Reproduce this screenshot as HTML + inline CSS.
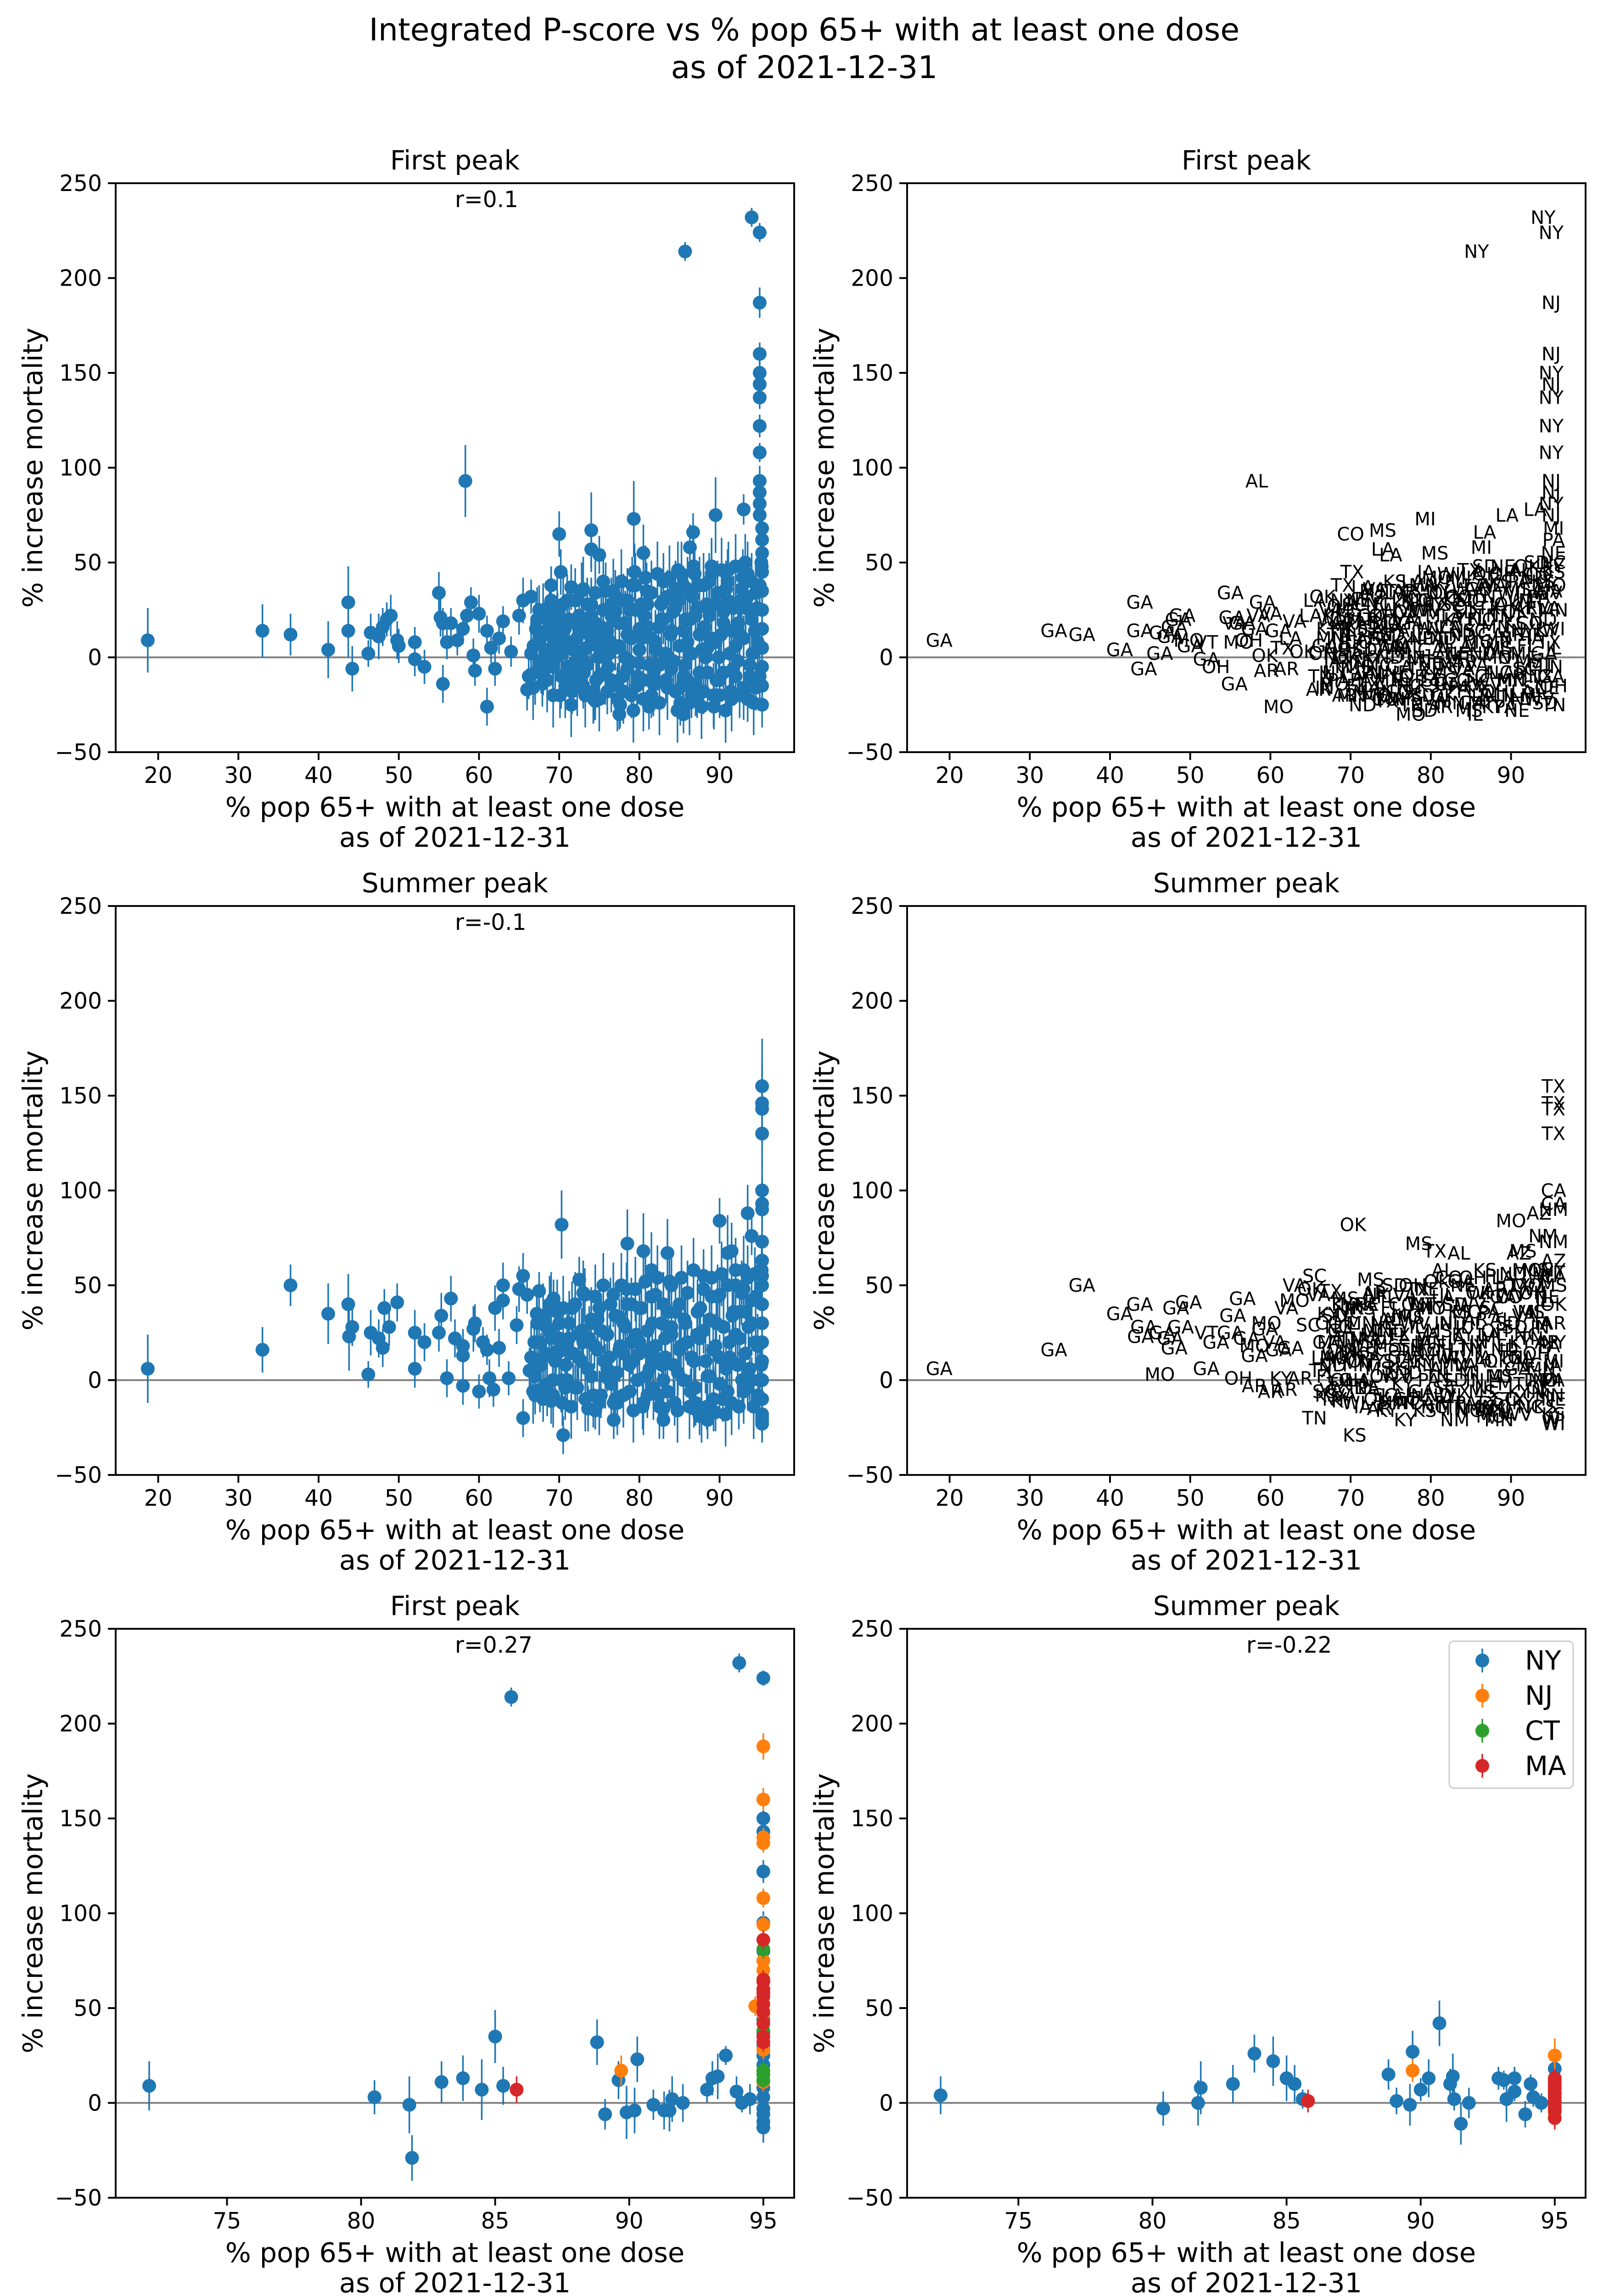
<!DOCTYPE html>
<html><head><meta charset="utf-8">
<style>
html,body{margin:0;padding:0;background:#fff;overflow:hidden;width:3505px;height:5026px;}
svg{display:block;overflow:hidden;font-family:"DejaVu Sans","Liberation Sans",sans-serif;}
</style></head>
<body>
<svg id="fig" width="3505" height="5026" viewBox="0 0 3505 5026" xmlns="http://www.w3.org/2000/svg">
<rect width="3505" height="5026" fill="#fff"/>
<text x="1752" y="88" font-size="68" text-anchor="middle">Integrated P-score vs % pop 65+ with at least one dose</text>
<text x="1752" y="170" font-size="68" text-anchor="middle">as of 2021-12-31</text>
<g id="plots"></g>
</svg>
<script>
// ---------- DATA ----------
const firstOutX = [18.7,33,36.5,41.2,43.7,43.7,44.2,46.2,46.5,47.5,48,48.5,49,49.8,50,52,52,53.2,55,55.2,55.5,55.5,56,56.5,57.3,58,58.3,58.5,59,59.3,59.5,60,61,61,61.5,62,62.5,63,64,65,65.5,66,66.5,69,70,70.2,71.5,74,74,75,74.5,77.5,79.3,80.5,85.5,85.5,86.3,86.7,89.5,93,94,95,85.7,95,95,95,95,95,95,95,95,95,95,95];
const firstOutY = [9,14,12,4,29,14,-6,2,13,11,16,20,22,9,6,8,-1,-5,34,21,18,-14,8,18,9,15,93,22,29,1,-7,23,-26,14,5,-6,10,19,3,22,30,-17,32,38,65,45,37,67,57,54,-23,-30,73,55,-30,38,58,66,75,78,232,224,214,187,160,150,144,137,122,108,93,87,81,75];
const firstOutErr = [17,14,11,15,19,14,12,7,10,12,10,9,11,10,9,8,9,9,11,10,8,10,9,8,8,8,19,7,8,9,8,10,10,8,8,9,8,8,8,10,12,11,9,10,12,12,12,20,12,10,10,8,20,15,10,10,12,10,20,8,5,5,5,8,6,6,6,6,6,5,8,6,6,6];
const firstOutState = "GA GA GA GA GA GA GA GA GA GA GA GA GA MO GA VT GA OH GA GA VA GA MO GA OH GA AL VA GA OK AR VA MO GA TX AR LA VA OK LA LA AR OK TX CO TX LA MS LA LA TX MO MI MS IL LA MI LA LA LA NY NY NY NJ NJ NY NJ NY NY NY NJ NJ NY NJ".split(" ");
const firstBulk = [[66.2,-10,12],[66.8,6,12],[67.1,15,14],[67.5,25,13],[67.9,-14,12],[68.3,0,12],[68.6,12,13],[68.8,27,14],[69.2,-5,12],[69.5,8,12],[69.8,20,14],[70.1,-20,12],[70.4,2,12],[70.7,15,13],[71,30,14],[71.3,-12,12],[71.6,-18,12],[71.9,-3,12],[72.2,10,13],[72.5,22,13],[72.8,35,15],[73.1,-8,12],[73.4,5,12],[73.7,18,13],[74,28,14],[74.3,-22,12],[74.6,-12,12],[74.9,0,12],[75.2,12,13],[75.5,25,14],[75.8,35,15],[76.1,-5,12],[76.4,8,12],[76.7,20,13],[77,32,14],[77.3,-15,12],[77.6,-25,12],[77.9,-10,12],[78.2,0,12],[78.5,12,13],[78.8,25,14],[79.1,38,15],[79.4,45,15],[79.7,-15,12],[80,-3,12],[80.3,10,13],[80.6,22,13],[80.9,35,15],[81.2,-26,12],[81.5,-20,12],[81.8,-8,12],[82.1,4,12],[82.4,16,13],[82.7,28,14],[83,40,15],[83.3,-12,12],[83.6,0,12],[83.9,12,13],[84.2,24,14],[84.5,36,15],[84.8,46,15],[85.1,-24,12],[85.4,-15,12],[85.7,-4,12],[86,8,12],[86.3,20,13],[86.6,32,14],[86.9,44,15],[87.2,-20,12],[87.5,-8,12],[87.8,4,12],[88.1,16,13],[88.4,28,14],[88.7,40,15],[89,48,15],[89.3,-26,12],[89.6,-12,12],[89.9,0,12],[90.2,12,13],[90.5,24,14],[90.8,36,15],[91.1,46,15],[91.4,-18,12],[91.7,-6,12],[92,6,12],[92.3,18,13],[92.6,30,14],[92.9,42,15],[93.2,50,15],[93.5,-22,12],[93.8,-10,12],[94.1,2,12],[94.4,14,13],[94.7,26,14],[95,38,15],[95.2,50,15],[95.3,-25,12],[95.3,-15,12],[95.3,-5,12],[95.3,5,12],[95.3,15,12],[95.3,25,12],[95.3,35,12],[95.3,45,12],[95.3,55,12],[95.3,62,12],[95.3,68,12],[68,-8,12],[69,18,13],[70,5,12],[71,-5,12],[72,18,13],[73,-15,12],[74,10,12],[75,-10,12],[76,-18,12],[77,5,12],[78,30,14],[79,-20,12],[80,15,13],[81,28,14],[82,-14,12],[83,20,13],[84,-6,12],[85,30,14],[86,-12,12],[87,22,13],[88,-18,12],[89,10,12],[90,-20,12],[91,30,14],[92,-10,12],[93,10,12],[94,40,15],[94.5,-16,12],[93.5,32,14],[92.5,-20,12],[91.5,14,13],[90.5,-8,12],[89.5,28,14],[88.5,5,12],[87.5,38,15],[86.5,-20,12],[85.5,14,13],[84.5,-18,12],[83.5,32,14],[82.5,-4,12],[81.5,10,12],[80.5,-12,12],[79.5,25,14],[78.5,-6,12],[77.5,18,13],[76.5,28,14],[75.5,5,12],[74.5,18,13],[73.5,28,14],[72.5,-8,12]];
// extra dense pairs: [x, y1, y2]
const firstBulk2 = [[66.5,2,-16],[67,-8,20],[67.5,10,-2],[68,22,4],[68.5,-12,16],[69,30,-20],[69.5,0,25],[70,12,-10],[70.5,28,-15],[71,8,20],[71.5,-25,4],[72,30,-14],[72.5,14,0],[73,36,-20],[73.5,-4,12],[74,22,-18],[74.5,34,6],[75,-22,16],[75.5,40,-8],[76,14,2],[76.5,-12,35],[77,24,-22],[77.5,6,40],[78,-18,18],[78.5,30,-2],[79,10,-28],[79.5,38,-10],[80,4,28],[80.5,-22,42],[81,16,-4],[81.5,34,-14],[82,8,44],[82.5,-24,20],[83,30,2],[83.5,-16,42],[84,14,-2],[84.5,26,-28],[85,6,44],[85.5,-10,20],[86,36,-24],[86.5,2,48],[87,-14,26],[87.5,12,-26],[88,38,0],[88.5,-8,22],[89,44,-20],[89.5,8,34],[90,-12,46],[90.5,18,-28],[91,40,2],[91.5,-22,26],[92,48,-2],[92.5,12,36],[93,-16,26],[93.5,44,-4],[94,20,-24],[94.5,34,8],[95,-10,48]];

const summerOutX = [18.7,33,36.5,41.2,43.7,43.8,44.2,46.2,46.5,47.5,48,48.2,48.8,49.8,52,52,53.2,55,55.3,56,56.5,57,58,58,58,59.3,59.5,60,60.5,61,61.3,61.8,62,62.5,63,63,63.7,64.7,65,65.5,65.5,66,67,67.5,69,69.3,70.3,70.5,72.5,74.5,76.8,77.5,78.5,80.5,81.5,83,83,83.5,86.8,87.5,88.5,89.5,90,91,91.5,93,93.5,94,95.3,95.3,95.3,95.3,95.3,95.3,95.3,95.3,95.3,95.3,95.3,95.3,95.3];
const summerOutY = [6,16,50,35,40,23,28,3,25,22,17,38,28,41,25,6,20,25,34,1,43,22,-3,13,18,27,30,-6,20,16,1,-5,38,17,50,42,1,29,48,55,-20,45,-8,47,-11,43,82,-29,53,-16,-21,33,72,68,58,-21,-15,67,-15,-19,-21,-17,84,67,68,58,88,76,100,155,146,143,130,93,90,73,63,55,-20,-22,-23];
const summerOutErr = [18,12,11,16,16,18,10,7,12,10,10,10,10,10,12,10,10,10,12,10,12,10,10,12,9,12,10,9,8,8,10,9,12,10,12,10,9,10,12,12,10,10,10,10,12,10,18,10,12,10,10,10,18,20,20,10,10,18,10,10,10,10,12,20,15,18,15,10,15,25,20,20,18,15,15,10,10,10,10,10,10];
const summerOutState = "GA GA GA GA GA GA GA MO GA GA GA GA GA GA VT GA GA GA GA OH GA GA AR GA MO GA MO AR VA GA KY AR VA GA VA MO AR SC OK SC TN VA KS TX KY MS OK KS MS KY KY MS MS TX AL NM TN AL KY MO MN IL MO AZ MS MS AZ NM CA TX TX TX TX CA NM NM AZ CA WI WI WI".split(" ");
const summerBulk = [[66.3,5,12],[66.9,20,12],[67.2,35,14],[67.6,-5,12],[68,12,12],[68.4,28,14],[68.8,40,15],[69.2,0,12],[69.6,15,12],[70,30,14],[70.4,-12,12],[70.8,8,12],[71.2,22,14],[71.6,38,14],[72,-4,12],[72.4,12,12],[72.8,26,12],[73.2,45,14],[73.6,-15,12],[74,2,12],[74.4,18,12],[74.8,32,14],[75.2,-8,12],[75.6,10,12],[76,24,12],[76.4,40,14],[76.8,-12,12],[77.2,4,12],[77.6,18,12],[78,30,14],[78.4,48,14],[78.8,-6,12],[79.2,10,12],[79.6,24,12],[80,38,14],[80.4,-14,12],[80.8,2,12],[81.2,16,12],[81.6,30,14],[82,45,16],[82.4,-8,12],[82.8,8,12],[83.2,22,12],[83.6,36,14],[84,50,14],[84.4,-12,12],[84.8,4,12],[85.2,18,12],[85.6,32,14],[86,46,14],[86.4,-6,12],[86.8,10,12],[87.2,24,12],[87.6,38,14],[88,55,14],[88.4,-14,12],[88.8,2,12],[89.2,16,12],[89.6,30,14],[90,45,14],[90.4,-10,12],[90.8,6,12],[91.2,20,12],[91.6,34,14],[92,50,14],[92.4,-14,12],[92.8,0,12],[93.2,14,12],[93.6,28,14],[94,42,14],[94.4,56,14],[94.8,-8,12],[95.2,8,12],[95.3,-18,10],[95.3,-10,10],[95.3,0,10],[95.3,10,10],[95.3,20,10],[95.3,30,10],[95.3,40,10],[95.3,50,10],[69,22,12],[71,0,12],[73,20,12],[75,38,14],[77,-10,12],[79,40,14],[81,-8,12],[83,0,12],[85,40,14],[87,-12,12],[89,44,14],[91,-6,12],[93,48,14],[94,0,12],[92,24,12],[90,12,12],[88,26,12],[86,20,12],[84,28,12],[82,12,12],[80,20,12],[78,14,12],[76,6,12],[74,30,12],[72,40,14],[70,15,12],[68,-10,12],[94.5,20,12],[93.5,-4,12],[92.5,36,14],[91.5,10,12]];
const summerBulk2 = [[66.5,12,-6],[67,2,30],[67.5,20,8],[68,34,14],[68.5,-2,26],[69,40,-8],[69.5,10,36],[70,22,0],[70.5,38,-4],[71,18,30],[71.5,-14,14],[72,40,-4],[72.5,24,10],[73,46,-10],[73.5,6,22],[74,32,-8],[74.5,44,16],[75,-12,26],[75.5,50,2],[76,24,12],[76.5,-2,45],[77,34,-12],[77.5,16,50],[78,-8,28],[78.5,40,8],[79,20,-16],[79.5,48,0],[80,14,38],[80.5,-12,52],[81,26,6],[81.5,44,-4],[82,18,54],[82.5,-14,30],[83,40,12],[83.5,-6,52],[84,24,8],[84.5,36,-16],[85,16,54],[85.5,0,30],[86,46,-14],[86.5,12,58],[87,-4,36],[87.5,22,-16],[88,48,10],[88.5,2,32],[89,54,-10],[89.5,18,44],[90,-2,56],[90.5,28,-18],[91,50,12],[91.5,-12,36],[92,58,8],[92.5,22,46],[93,-6,36],[93.5,54,6],[94,30,-14],[94.5,44,18],[95,0,58]];
const bulkStates = "TX GA KY VA MO NC TN OH IN IL WI MN IA KS NE PA MI NY AR OK MS AL LA SC FL CO MT ND SD WV".split(" ");

// Northeast panels
const neFirstNY_X = [72.1,80.5,81.8,81.9,83,83.8,84.5,85,85.3,85.6,88.8,89.1,89.6,89.9,90.2,90.3,90.9,91.3,91.5,91.6,92,92.9,93.1,93.3,93.6,94,94.2,94.5,94.1,95,95,95,95,95,95,95,95,95,95,95,95,95,95,95,95,95,95];
const neFirstNY_Y = [9,3,-1,-29,11,13,7,35,9,214,32,-6,12,-5,-4,23,-1,-4,-4,2,0,7,13,14,25,6,0,2,232,224,150,143,122,95,80,44,37,30,25,20,15,8,3,-3,-6,-10,-13];
const neFirstNY_E = [13,9,15,12,11,12,16,14,10,5,12,8,10,14,12,12,8,10,11,12,10,7,9,12,5,8,5,8,5,4,4,4,6,6,5,5,5,5,5,5,5,5,5,5,5,6,8];
const neFirstNJ_X = [89.7,95,95,95,95,95,95,95,95,95,94.7,95,95,95];
const neFirstNJ_Y = [17,188,160,140,137,108,94,75,70,60,51,47,28,11];
const neFirstNJ_E = [8,7,6,5,5,5,5,5,5,5,5,5,5,5];
const neFirstCT_X = [95,95,95,95,95];
const neFirstCT_Y = [81,38,17,15,12];
const neFirstCT_E = [5,5,5,5,4];
const neFirstMA_X = [85.8,95,95,95,95,95,95,95,95,95,95,95];
const neFirstMA_Y = [7,86,64,60,56,52,48,42,35,32,65,58];
const neFirstMA_E = [7,5,5,5,5,5,5,5,5,5,5,5];

const neSumNY_X = [72.1,80.4,81.7,81.8,83,83.8,84.5,85,85.3,85.6,88.8,89.1,89.6,89.7,90,90.3,90.7,91.1,91.2,91.25,91.5,91.8,92.9,93.1,93.2,93.5,93.5,93.9,94.1,94.2,94.5,95,95,95,95,95];
const neSumNY_Y = [4,-3,0,8,10,26,22,13,10,2,15,1,-1,27,7,13,42,10,14,2,-11,0,13,12,2,6,13,-6,10,3,0,18,10,5,0,-3];
const neSumNY_E = [10,9,12,14,10,10,13,12,10,5,8,7,11,11,6,10,12,8,12,6,11,8,6,5,12,5,6,7,5,5,5,6,5,5,5,5];
const neSumNJ_X = [89.7,95,95,95];
const neSumNJ_Y = [17,25,12,-5];
const neSumNJ_E = [6,9,5,5];
const neSumCT_X = [95,95];
const neSumCT_Y = [3,8];
const neSumCT_E = [4,4];
const neSumMA_X = [85.8,95,95,95,95,95,95,95,95,95,95];
const neSumMA_Y = [1,13,11,9,7,5,3,1,-2,-4,-8];
const neSumMA_E = [6,5,5,5,5,5,5,5,5,5,6];

const wideTicks = [20,30,40,50,60,70,80,90];
const neTicks = [75,80,85,90,95];
const yTicks = [-50,0,50,100,150,200,250];
const legendLabels = ["NY","NJ","CT","MA"];
const COLORS = {NY:"#1f77b4",NJ:"#ff7f0e",CT:"#2ca02c",MA:"#d62728"};

// ---------- RENDER ----------
const NS = "http://www.w3.org/2000/svg";
const root = document.getElementById("plots");
const colLeft = [252,1976], rowTop = [399,1973,3547], AW = 1478, AH = 1239;
function mk(tag, attrs, parent){ const e=document.createElementNS(NS,tag); for(const k in attrs) e.setAttribute(k,attrs[k]); parent.appendChild(e); return e; }

function buildSet(outX,outY,outE,outS,bulk,bulk2){
  const xs=outX.slice(), ys=outY.slice(), es=outE.slice(), ss=outS.slice();
  let k=0;
  bulk.forEach(p=>{ xs.push(p[0]); ys.push(p[1]); es.push(p[2]); ss.push(bulkStates[k++%bulkStates.length]); });
  bulk2.forEach(p=>{
    xs.push(p[0]); ys.push(p[1]); es.push(17); ss.push(bulkStates[k++%bulkStates.length]);
    xs.push(p[0]+0.25); ys.push(p[2]); es.push(17); ss.push(bulkStates[k++%bulkStates.length]);
  });
  return {xs,ys,es,ss};
}
const firstSet = buildSet(firstOutX,firstOutY,firstOutErr,firstOutState,firstBulk,firstBulk2);
const summerSet = buildSet(summerOutX,summerOutY,summerOutErr,summerOutState,summerBulk,summerBulk2);

function panel(row,col,title,rtext,xlim,xticks,name){
  const L=colLeft[col], T=rowTop[row];
  const g=mk("g",{},root);
  
  
  const sx=v=>L+(v-xlim[0])/(xlim[1]-xlim[0])*AW;
  const sy=v=>T+(250-v)/300*AH;
  const z=mk("line",{x1:L,x2:L+AW,y1:sy(0),y2:sy(0),stroke:"#808080","stroke-width":4},g);
  
  
  const pts=mk("g",{},g);
  
  
  const fr=mk("rect",{x:L,y:T,width:AW,height:AH,fill:"none",stroke:"#000","stroke-width":3.9},g);
  
  
  yTicks.forEach(v=>{
    const y=sy(v);
    mk("line",{x1:L-17,x2:L,y1:y,y2:y,stroke:"#000","stroke-width":3.9},g);
    const t=mk("text",{x:L-30,y:y+17,"font-size":48.6,"text-anchor":"end"},g);
    t.textContent=(v<0?"\u2212"+(-v):String(v));
    
    
  });
  xticks.forEach(v=>{
    const x=sx(v);
    mk("line",{x1:x,x2:x,y1:T+AH,y2:T+AH+17,stroke:"#000","stroke-width":3.9},g);
    const t=mk("text",{x:x,y:T+AH+67,"font-size":48.6,"text-anchor":"middle"},g);
    t.textContent=String(v);
    
    
  });
  const tt=mk("text",{x:L+AW/2,y:T-30,"font-size":58,"text-anchor":"middle"},g);
  tt.textContent=title;
  
  
  if(rtext){
    const r=mk("text",{x:L+AW/2,y:T+52,"font-size":48.6},g);
    r.textContent=rtext;
    
    
  }
  const x1=mk("text",{x:L+AW/2,y:T+AH+140,"font-size":59,"text-anchor":"middle"},g);
  x1.textContent="% pop 65+ with at least one dose";
  
  
  const x2=mk("text",{x:L+AW/2,y:T+AH+206,"font-size":59,"text-anchor":"middle"},g);
  x2.textContent="as of 2021-12-31";
  
  
  const yl=mk("text",{x:0,y:0,"font-size":59,"text-anchor":"middle",transform:`translate(${L-160},${T+AH/2}) rotate(-90)`},g);
  yl.textContent="% increase mortality";
  
  
  return {pts,sx,sy,L,T};
}

function drawDots(p,xs,ys,es,color,name){
  const bars=mk("g",{},p.pts), dots=mk("g",{},p.pts);
  xs.forEach((x,i)=>{
    const X=p.sx(x);
    const b=mk("line",{x1:X,x2:X,y1:p.sy(ys[i]+es[i]),y2:p.sy(ys[i]-es[i]),stroke:color,"stroke-width":3.5},bars);
    
    
    const c=mk("circle",{cx:X,cy:p.sy(ys[i]),r:15,fill:color},dots);
    
    
  });
}
function drawLabels(p,set){
  set.xs.forEach((x,i)=>{
    const t=mk("text",{x:p.sx(x),y:p.sy(set.ys[i])+14,"font-size":40,"text-anchor":"middle",fill:"#000"},p.pts);
    t.textContent=set.ss[i];
    
    
  });
}

const wideLim=[14.7,99.3], neLim=[70.85,96.15];
let p;
p=panel(0,0,"First peak","r=0.1",wideLim,wideTicks,"first-peak-scatter");
drawDots(p,firstSet.xs,firstSet.ys,firstSet.es,"#1f77b4","county");
p=panel(0,1,"First peak","",wideLim,wideTicks,"first-peak-labels");
drawLabels(p,firstSet);
p=panel(1,0,"Summer peak","r=-0.1",wideLim,wideTicks,"summer-peak-scatter");
drawDots(p,summerSet.xs,summerSet.ys,summerSet.es,"#1f77b4","county");
p=panel(1,1,"Summer peak","",wideLim,wideTicks,"summer-peak-labels");
drawLabels(p,summerSet);
p=panel(2,0,"First peak","r=0.27",neLim,neTicks,"first-peak-northeast");
drawDots(p,neFirstNY_X,neFirstNY_Y,neFirstNY_E,COLORS.NY,"ny");
drawDots(p,neFirstNJ_X,neFirstNJ_Y,neFirstNJ_E,COLORS.NJ,"nj");
drawDots(p,neFirstCT_X,neFirstCT_Y,neFirstCT_E,COLORS.CT,"ct");
drawDots(p,neFirstMA_X,neFirstMA_Y,neFirstMA_E,COLORS.MA,"ma");
p=panel(2,1,"Summer peak","r=-0.22",neLim,neTicks,"summer-peak-northeast");
drawDots(p,neSumNY_X,neSumNY_Y,neSumNY_E,COLORS.NY,"ny");
drawDots(p,neSumNJ_X,neSumNJ_Y,neSumNJ_E,COLORS.NJ,"nj");
drawDots(p,neSumCT_X,neSumCT_Y,neSumCT_E,COLORS.CT,"ct");
drawDots(p,neSumMA_X,neSumMA_Y,neSumMA_E,COLORS.MA,"ma");

const lg=mk("g",{},root);


mk("rect",{x:3157,y:3574,width:270,height:320,rx:10,fill:"#fff","fill-opacity":0.8,stroke:"#cccccc","stroke-width":3},lg);
legendLabels.forEach((s,i)=>{
  const y=3616+i*76.5;
  const e=mk("g",{},lg);
  
  
  mk("line",{x1:3229,x2:3229,y1:y-26,y2:y+26,stroke:COLORS[s],"stroke-width":3.5},e);
  mk("circle",{cx:3229,cy:y,r:15,fill:COLORS[s]},e);
  const t=mk("text",{x:3322,y:y+20,"font-size":58},e);
  t.textContent=s;
});
</script>
</body></html>
